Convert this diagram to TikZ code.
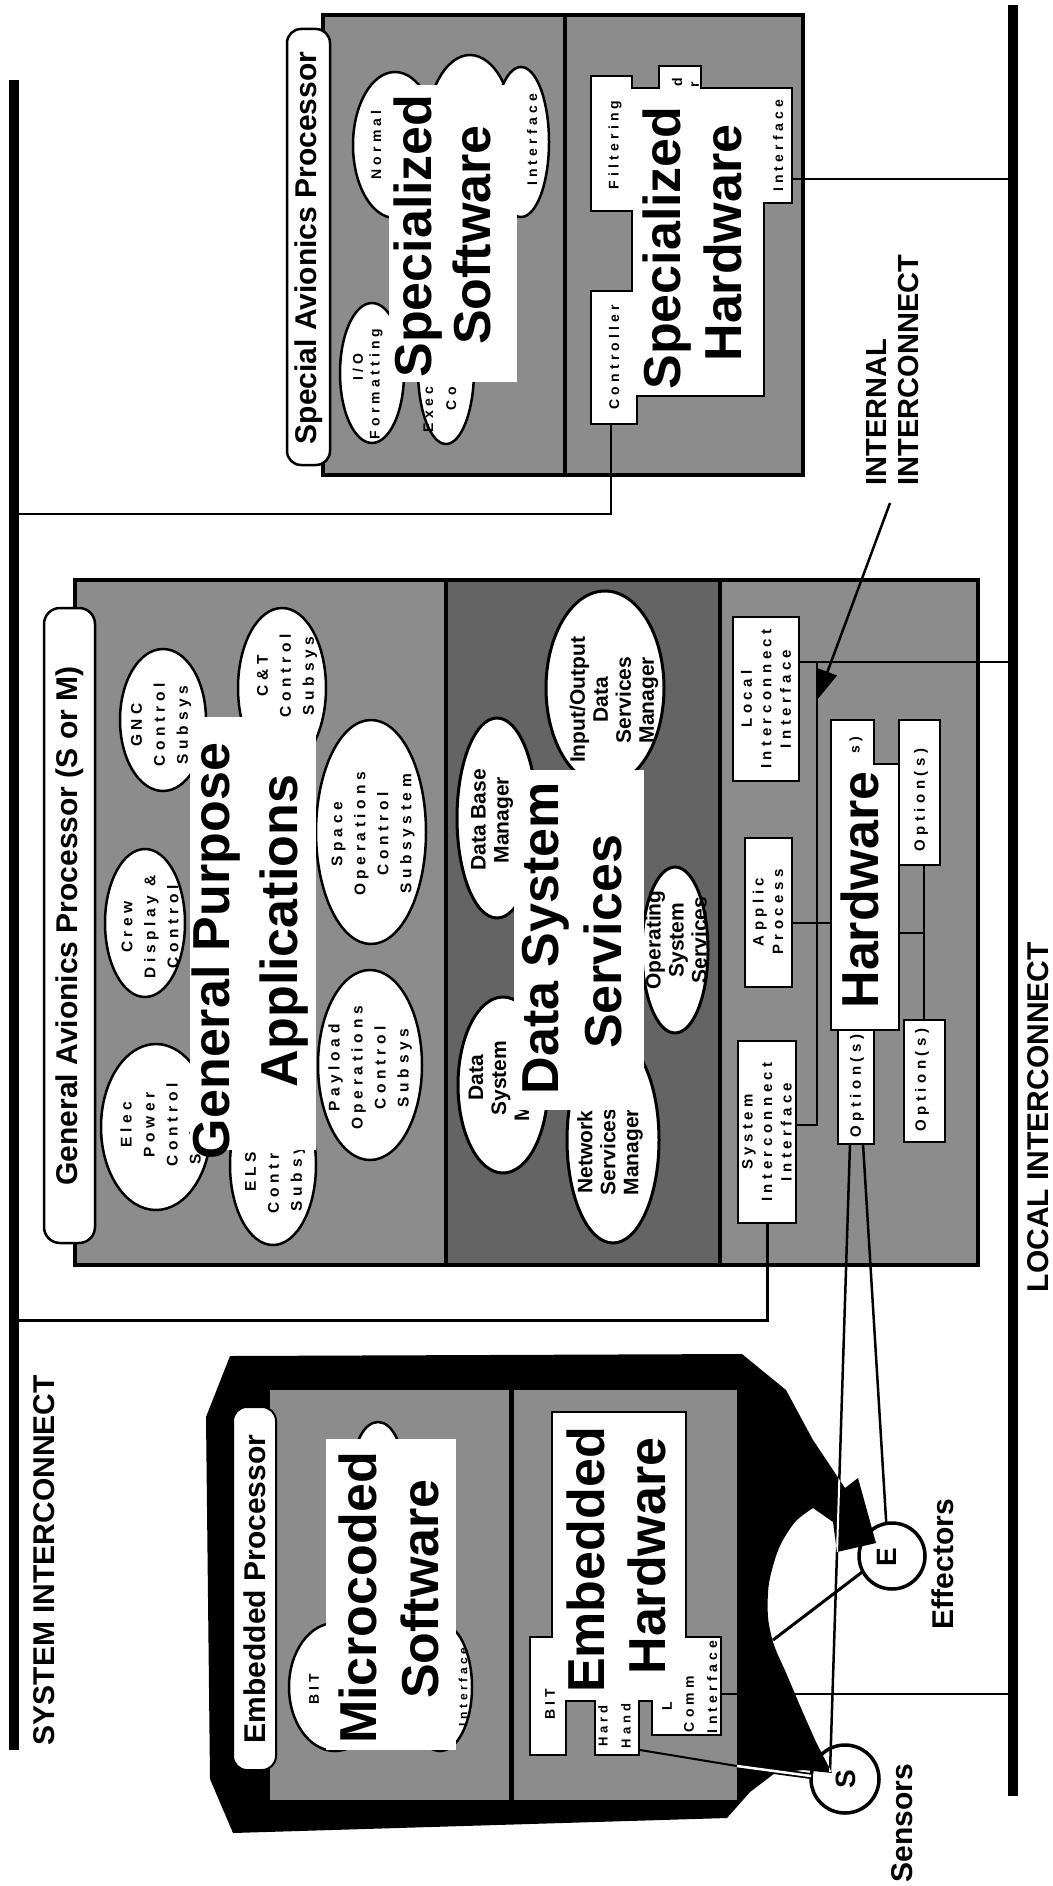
\documentclass[tikz,border=0pt]{standalone}
\usepackage{fontspec}
\setmainfont{Liberation Sans}
\newfontfamily\spaced[LetterSpace=30]{Liberation Sans Bold}
\usetikzlibrary{shapes.geometric,arrows.meta,fit}
\definecolor{gl}{RGB}{140,140,140}
\definecolor{gd}{RGB}{100,100,100}
\newcommand\fsz[1]{\fontsize{#1}{#1}\selectfont}
\newcommand\embBlob{(230,1356) -- (742,1354) -- (786,1390) -- (813,1440) -- (845,1488) -- (858,1478) -- (876,1543) -- (837,1552) -- (833,1522) -- plot[smooth] coordinates {(813,1508) (795,1522) (779,1548) (769,1583) (768,1617) (774,1645) (787,1675) (801,1708) (816,1742)} -- (832,1773) -- (803,1770) -- (775,1773) -- (750,1792) -- (727,1818) -- (233,1833) -- (210,1779) -- (206,1417) -- cycle}
\begin{document}
\begin{tikzpicture}[x=1pt,y=-1pt,
  every node/.style={inner sep=0pt, outer sep=0pt},
  big/.style={rotate=90, font=\fsz{52}\bfseries},
  lab/.style={rotate=90, font=\fsz{30}\bfseries},
  sme/.style={rotate=90, align=center, font=\spaced\fontsize{15.5}{23}\selectfont},
  smb/.style={rotate=90, align=center, font=\spaced\fontsize{15}{19.5}\selectfont},
  sms/.style={rotate=90, align=center, font=\spaced\fontsize{14}{16}\selectfont},
  ds/.style={rotate=90, align=center, font=\fontsize{21}{23}\selectfont\bfseries},
  ell/.style={ellipse, draw, line width=2.5pt, fill=white},
  box/.style={draw, line width=2pt, fill=white},
  conn/.style={line width=2.5pt},
  panel/.style={draw, line width=4pt},
]
\useasboundingbox (0,0) rectangle (1052,1886);
\fill[white] (0,0) rectangle (1052,1886);

% ---------- interconnect buses
\coordinate (sysTop) at (14,80);
\coordinate (sysBot) at (14,1750);
\coordinate (locTop) at (1013,5);
\coordinate (locBot) at (1013,1796);
\draw[line width=10pt] (sysTop) -- (sysBot);
\draw[line width=10pt] (locTop) -- (locBot);
\node[lab] (sysLab) at (44,1560) {SYSTEM INTERCONNECT};
\node[lab] (locLab) at (1038,1117) {LOCAL INTERCONNECT};

% ---------- Special Avionics Processor
\node[fit={(323,15)(565,475)}, panel, fill=gl] (spSW) {};
\node[fit={(565,15)(803,475)}, panel, fill=gl] (spHW) {};
\node[fit={(287,29)(330,465)}, draw, line width=2.5pt, rounded corners=14pt, fill=white] (spLab) {};
\node[lab] (spLabT) at (309,248) {Special Avionics Processor};

\node[ell, minimum width=84pt, minimum height=146pt] (eNormal) at (395,145) {};
\node[ell, minimum width=90pt, minimum height=170pt] (eTop) at (470,140) {};
\node[ell, minimum width=56pt, minimum height=150pt] (eIfc) at (521,142) {};
\node[ell, minimum width=64pt, minimum height=140pt] (eIO) at (372,373) {};
\node[ell, minimum width=56pt, minimum height=148pt] (eExe) at (446,370) {};
\node[sms] (tNormal) at (376,145) {Normal};
\node[sms] (tIfc1) at (532,140) {Interface};
\node[sms] (tIO) at (358,367) {I/O};
\node[sms] (tFmt) at (376,384) {Formatting};
\node[sms, anchor=west] (tExe) at (428,432) {Executive};
\node[sms, anchor=west] (tCo) at (451,410) {Control};
\node[fit={(389,85)(517,382)}, fill=white] (spSWw) {};
\node[big] (tSpec1) at (418,236) {Specialized};
\node[big] (tSoft1) at (472,235) {Software};

\draw[line width=2pt, fill=white] (591,76) -- (632,76) -- (632,88) -- (659,88) -- (659,66) -- (701,66) -- (701,88) -- (792,88) -- (792,203) -- (764,203) -- (764,396) -- (637,396) -- (637,424) -- (591,424) -- (591,291) -- (632,291) -- (632,211) -- (591,211) -- cycle;
\node[sms] (tFilt) at (615,145) {Filtering};
\node[sms] (tCtrl) at (614,357) {Controller};
\node[sms] (tIfc2) at (778,146) {Interface};
\node[sms] (tD) at (677,82) {d};
\node[sms] (tR) at (695,85) {r};
\node[big] (tSpec2) at (667,248) {Specialized};
\node[big] (tHW1) at (723,243) {Hardware};

\coordinate (ctrlB) at (611,424);
\coordinate (sysJ1) at (14,514);
\draw[conn] (ctrlB) -- (ctrlB |- sysJ1) -- (sysJ1);
\coordinate (spIf) at (792,179);
\draw[conn] (spIf) -- (spIf -| locTop);

% ---------- General Avionics Processor
\node[fit={(75,580)(446,1265)}, panel, fill=gl] (gaApps) {};
\node[fit={(446,580)(720,1265)}, panel, fill=gd] (gaData) {};
\node[fit={(720,580)(978,1265)}, panel, fill=gl] (gaHW) {};
\node[fit={(44,608)(95,1243)}, draw, line width=2.5pt, rounded corners=16pt, fill=white] (gaLab) {};
\node[lab] (gaLabT) at (70,926) {General Avionics Processor (S or M)};

\node[ell, minimum width=80pt, minimum height=148pt] (eCrew) at (145,923) {};
\node[ell, minimum width=86pt, minimum height=142pt] (eGNC) at (163,720) {};
\node[ell, minimum width=88pt, minimum height=160pt] (eCT) at (282,688) {};
\node[ell, minimum width=110pt, minimum height=224pt] (eSpace) at (371,832) {};
\node[ell, minimum width=104pt, minimum height=190pt] (ePay) at (370,1065) {};
\node[ell, minimum width=110pt, minimum height=166pt] (eElec) at (156,1127) {};
\node[ell, minimum width=86pt, minimum height=160pt] (eELS) at (273,1165) {};
\node[sme] (tCrew) at (150,927) {Crew\\Display \&\\Control};
\node[sme] (tGNC) at (161,725) {GNC\\Control\\Subsys};
\node[sme] (tCT) at (287,676) {C\&T\\Control\\Subsys};
\node[sme] (tSpace) at (373,834) {Space\\Operations\\Control\\Subsystem};
\node[sme] (tPay) at (370,1068) {Payload\\Operations\\Control\\Subsys};
\node[sme] (tElec) at (162,1125) {Elec\\Power\\Control\\Subsys};
\node[sme] (tELS) at (275,1172) {ELS\\Control\\Subsys};
\node[fit={(190,717)(316,1150)}, fill=white] (gpW) {};
\node[big] (tGP1) at (216,951) {General Purpose};
\node[big] (tGP2) at (284,931) {Applications};

\node[ell, line width=3pt, minimum width=90pt, minimum height=176pt] (eDSM) at (503,1085) {};
\node[ell, line width=3pt, minimum width=80pt, minimum height=200pt] (eDBM) at (497,818) {};
\node[ell, line width=3pt, minimum width=118pt, minimum height=194pt] (eIOD) at (605,688) {};
\node[ell, line width=3pt, minimum width=66pt, minimum height=166pt] (eOSS) at (675,950) {};
\node[ell, line width=3pt, minimum width=92pt, minimum height=206pt] (eNSM) at (613,1140) {};
\node[ds] (tDSM) at (501,1078) {Data\\System\\Manager};
\node[ds] (tDBM) at (492,820) {Data Base\\Manager};
\node[ds] (tIOD) at (614,700) {Input/Output\\Data\\Services\\Manager};
\node[ds] (tOSS) at (676,940) {Operating\\System\\Services};
\node[ds] (tNSM) at (610,1152) {Network\\Services\\Manager};
\node[fit={(514,770)(644,1110)}, fill=white] (dssW) {};
\node[big] (tDS1) at (546,938) {Data System};
\node[big] (tDS2) at (603,942) {Services};

\node[fit={(733,617)(799,781)}, box] (lcBox) {};
\node[smb] (tLc) at (766,699) {Local\\Interconnect\\Interface};
\node[fit={(745,838)(792,987)}, box] (apBox) {};
\node[smb] (tAp) at (768,912) {Applic\\Process};
\node[fit={(738,1041)(796,1223)}, box] (siBox) {};
\node[smb] (tSi) at (767,1132) {System\\Interconnect\\Interface};

\draw[box] (831,720) -- (874,720) -- (874,764) -- (899,764) -- (899,1030) -- (831,1030) -- cycle;
\node[fit={(899,720)(940,865)}, box] (opTR) {};
\node[fit={(904,1020)(945,1142)}, box] (opBR) {};
\node[fit={(838,1030)(874,1144)}, box] (opL) {};
\node[smb] (tOp1) at (921,800) {Option(s)};
\node[smb] (tOp2) at (922,1080) {Option(s)};
\node[smb] (tOp3) at (857,1086) {Option(s)};
\node[big] (tHW2) at (860,890) {Hardware};
\node[sms] (tSfrag) at (856,745) {s)};

\coordinate (busTop) at (817,662);
\coordinate (busBot) at (817,1125);
\coordinate (apJ) at (817,923);
\coordinate (hwW) at (831,923);
\coordinate (opJ) at (924,933);
\coordinate (hwE) at (899,933);
\draw[conn] (lcBox.east |- busTop) -- (busTop -| locTop);
\draw[conn] (busTop) -- (busBot) -- (busBot -| siBox.east);
\draw[conn] (apJ -| apBox.east) -- (hwW);
\draw[conn] (opTR.south -| opJ) -- (opBR.north -| opJ);
\draw[conn] (hwE) -- (opJ);
\coordinate (sysJ2) at (14,1320);
\draw[line width=3pt] (siBox.south) -- (siBox.south |- sysJ2) -- (sysJ2);

\coordinate (arrS) at (890,503);
\coordinate (arrT) at (817,700);
\draw[conn, -{Triangle[length=30pt,width=20pt]}] (arrS) -- (arrT);
\node[lab, font=\fontsize{29}{32}\selectfont\bfseries, align=left] (tInt) at (893,370) {INTERNAL\\INTERCONNECT};

% ---------- Embedded processor
\node[circle, draw, line width=3.5pt, fill=white, minimum size=66pt] (cE) at (892,1556) {};
\node[circle, draw, line width=3.5pt, fill=white, minimum size=68pt] (cS) at (845,1779) {};
\fill[black] \embBlob;
\node[fit={(270,1390)(509,1800)}, fill=gl] (emSW) {};
\node[fit={(514,1390)(737,1800)}, fill=gl] (emHW) {};
\node[fit={(233,1407)(276,1770)}, draw, line width=2pt, rounded corners=14pt, fill=white] (emLab) {};
\node[lab] (emLabT) at (255,1589) {Embedded Processor};

\node[ell, minimum width=92pt, minimum height=128pt] (eBIT) at (335,1687) {};
\node[ell, minimum width=64pt, minimum height=128pt] (eMIF) at (440,1687) {};
\node[ell, minimum width=50pt, minimum height=96pt] (eMT) at (378,1470) {};
\node[sms] (tBIT1) at (314,1689) {BIT};
\node[fit={(326,1439)(456,1750)}, fill=white] (msW) {};
\node[sms, font=\spaced\fsz{12}] (tMIF) at (463,1687) {Interface};
\node[big] (tMC) at (358,1598) {Microcoded};
\node[big] (tMS) at (420,1589) {Software};

\draw[line width=1.5pt, fill=white] (552,1412) -- (686,1412) -- (686,1637) -- (721,1637) -- (721,1735) -- (652,1735) -- (652,1701) -- (639,1701) -- (639,1755) -- (595,1755) -- (595,1701) -- (566,1701) -- (566,1755) -- (530,1755) -- (530,1637) -- (552,1637) -- cycle;
\node[sms] (tBIT2) at (550,1704) {BIT};
\node[sms, font=\spaced\fsz{13}] (tHard) at (603,1726) {Hard};
\node[sms, font=\spaced\fsz{13}] (tHand) at (626,1726) {Hand};
\node[sms] (tL) at (667,1706) {L};
\node[sms] (tComm) at (689,1704) {Comm};
\node[sms] (tCI) at (712,1687) {Interface};
\node[big] (tEm) at (586,1560) {Embedded};
\node[big] (tEH) at (647,1556) {Hardware};

\coordinate (commP) at (721,1694);
\draw[conn] (commP) -- (commP -| locBot);

\coordinate (l1a) at (850,1144);
\coordinate (l1b) at (830,1772);
\coordinate (l2a) at (863,1144);
\draw[conn] (l1a) -- (l1b);
\begin{scope}
  \clip \embBlob;
  \draw[white, line width=2pt] (l1a) -- (l1b);
\end{scope}
\draw[conn] (l2a) -- (cE.100);
\coordinate (bl1) at (773,1640);
\draw[line width=3pt] (cE.208) -- (bl1);
\coordinate (hh) at (640,1750);
\coordinate (hb) at (737,1766);
\draw[line width=2pt] (hh) -- (hb);
\draw[line width=6pt] (hb) -- (cS.175);
\draw[white, line width=2.5pt] (hb) -- (cS.175);

\node[lab, font=\fsz{28}\bfseries] (tE) at (887,1557) {E};
\node[lab, font=\fsz{28}\bfseries] (tS) at (846,1779) {S};
\node[lab] (tEff) at (943,1564) {Effectors};
\node[lab] (tSen) at (902,1823) {Sensors};
\end{tikzpicture}
\end{document}
